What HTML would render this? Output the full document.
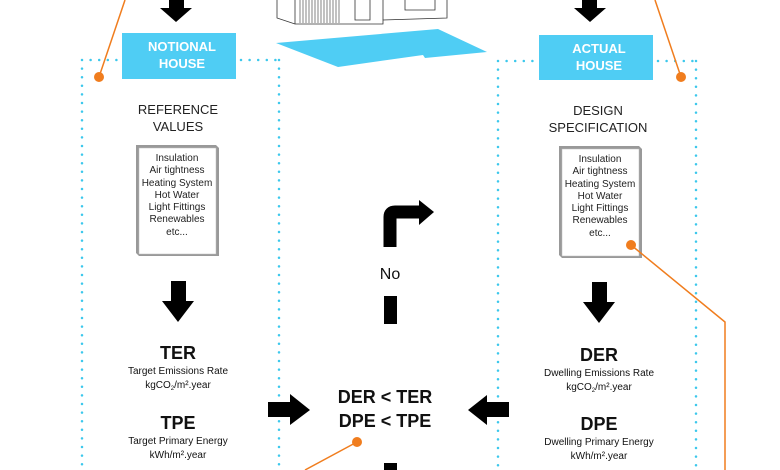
<!DOCTYPE html>
<html><head><meta charset="utf-8"><style>
html,body{margin:0;padding:0;background:#fff;width:780px;height:470px;overflow:hidden}
text{font-family:"Liberation Sans",Arial,sans-serif}
</style></head><body>
<svg width="780" height="470" viewBox="0 0 780 470" xmlns="http://www.w3.org/2000/svg">
<!-- dotted borders -->
<g stroke="#3cc8ec" stroke-width="2.5" stroke-linecap="round" stroke-dasharray="0 8.6" fill="none">
<path d="M82 60 L122 60 M241 60 L279 60 M82 60 L82 470 M279 60 L279 470"/>
<path d="M498 61 L539 61 M658 61 L696 61 M498 61 L498 470 M696 61 L696 470"/>
</g>
<!-- house sketch -->
<g stroke="#333" stroke-width="0.8" fill="#fff">
<path d="M277 0 L277 18 L295 24 L383 24 L383 20 L447 18 L447 0"/>
<path d="M295 0 L295 24 M383 0 L383 20"/>
<path d="M355 0 L355 20 L370 20 L370 0"/>
<path d="M405 0 L405 10 L435 10 L435 0"/>
</g>
<g stroke="#333" stroke-width="0.6">
<path d="M300 0V23M303 0V23M306 0V23M309 0V23M312 0V23M315 0V23M318 0V23M321 0V23M324 0V23M327 0V23M330 0V23M333 0V23M336 0V23M339 0V23"/>
</g>
<polygon points="276,43 438,29 487,52 425,58 423,55 338,67" fill="#4fcdf4"/>
<!-- blue labels -->
<rect x="122" y="33" width="114" height="46" fill="#4fcdf4"/>
<text x="182" y="51" text-anchor="middle" font-size="13" font-weight="bold" fill="#fff">NOTIONAL</text>
<text x="182" y="68" text-anchor="middle" font-size="13" font-weight="bold" fill="#fff">HOUSE</text>
<rect x="539" y="35" width="114" height="45" fill="#4fcdf4"/>
<text x="599" y="53" text-anchor="middle" font-size="13" font-weight="bold" fill="#fff">ACTUAL</text>
<text x="599" y="70" text-anchor="middle" font-size="13" font-weight="bold" fill="#fff">HOUSE</text>
<!-- top arrows -->
<polygon points="169,0 184,0 184,8 192,8 176,22 160,8 169,8" fill="#000"/>
<polygon points="582,0 597,0 597,8 606,8 590,22 574,8 582,8" fill="#000"/>
<!-- headings -->
<g font-size="13" fill="#222" text-anchor="middle">
<text x="178" y="114">REFERENCE</text><text x="178" y="131">VALUES</text>
<text x="598" y="115">DESIGN</text><text x="598" y="132">SPECIFICATION</text>
</g>
<!-- documents -->
<g>
<path d="M136 145 L216 145 L219 148 L219 256 L139 256 L136 253 Z" fill="#999"/>
<rect x="139" y="148" width="77" height="106" fill="#fff" stroke="#bbb" stroke-width="0.5"/>
<path d="M559 146 L639 146 L642 149 L642 258 L562 258 L559 255 Z" fill="#999"/>
<rect x="562" y="149" width="77" height="107" fill="#fff" stroke="#bbb" stroke-width="0.5"/>
</g>
<g font-size="10" fill="#222" text-anchor="middle">
<text x="177" y="161">Insulation</text><text x="177" y="173">Air tightness</text><text x="177" y="186">Heating System</text><text x="177" y="198">Hot Water</text><text x="177" y="210">Light Fittings</text><text x="177" y="222">Renewables</text><text x="177" y="235">etc...</text>
<text x="600" y="162">Insulation</text><text x="600" y="174">Air tightness</text><text x="600" y="187">Heating System</text><text x="600" y="199">Hot Water</text><text x="600" y="211">Light Fittings</text><text x="600" y="223">Renewables</text><text x="600" y="236">etc...</text>
</g>
<!-- down arrows -->
<polygon points="171,281 186,281 186,301 194,301 178,322 162,301 171,301" fill="#000"/>
<polygon points="592,282 607,282 607,302 615,302 599,323 583,302 592,302" fill="#000"/>
<!-- left column values -->
<g text-anchor="middle" fill="#111">
<text x="178" y="359" font-size="18" font-weight="bold">TER</text>
<text x="178" y="374" font-size="10">Target Emissions Rate</text>
<text x="178" y="388" font-size="10">kgCO<tspan font-size="6" dy="2">2</tspan><tspan dy="-2">/m²</tspan>.year</text>
<text x="178" y="429" font-size="18" font-weight="bold">TPE</text>
<text x="178" y="444" font-size="10">Target Primary Energy</text>
<text x="178" y="458" font-size="10">kWh/m².year</text>
<text x="599" y="361" font-size="18" font-weight="bold">DER</text>
<text x="599" y="376" font-size="10">Dwelling Emissions Rate</text>
<text x="599" y="390" font-size="10">kgCO<tspan font-size="6" dy="2">2</tspan><tspan dy="-2">/m²</tspan>.year</text>
<text x="599" y="430" font-size="18" font-weight="bold">DPE</text>
<text x="599" y="445" font-size="10">Dwelling Primary Energy</text>
<text x="599" y="459" font-size="10">kWh/m².year</text>
<text x="385" y="403" font-size="18" font-weight="bold">DER &lt; TER</text>
<text x="385" y="427" font-size="18" font-weight="bold">DPE &lt; TPE</text>
<text x="390" y="279" font-size="16">No</text>
</g>
<!-- side arrows -->
<polygon points="268,402 290,402 290,394 310,410 290,425 290,417 268,417" fill="#000"/>
<polygon points="509,402 487,402 487,395 468,410 487,425 487,417 509,417" fill="#000"/>
<!-- no arrow -->
<path d="M390 247 L390 217 Q390 212 395 212 L420 212" stroke="#000" stroke-width="13" fill="none"/>
<polygon points="419,200 434,212 419,225" fill="#000"/>
<rect x="384" y="296" width="13" height="28" fill="#000"/>
<rect x="384" y="463" width="13" height="7" fill="#000"/>
<!-- orange -->
<g stroke="#f07d1e" stroke-width="1.5" fill="none">
<path d="M125 0 L99 77"/><path d="M655 0 L681 77"/>
<path d="M631 245 L725 322 L725 470"/>
<path d="M357 442 L305 470"/>
</g>
<g fill="#f07d1e">
<circle cx="99" cy="77" r="5"/><circle cx="681" cy="77" r="5"/>
<circle cx="631" cy="245" r="5"/><circle cx="357" cy="442" r="5"/>
</g>
</svg>
</body></html>
